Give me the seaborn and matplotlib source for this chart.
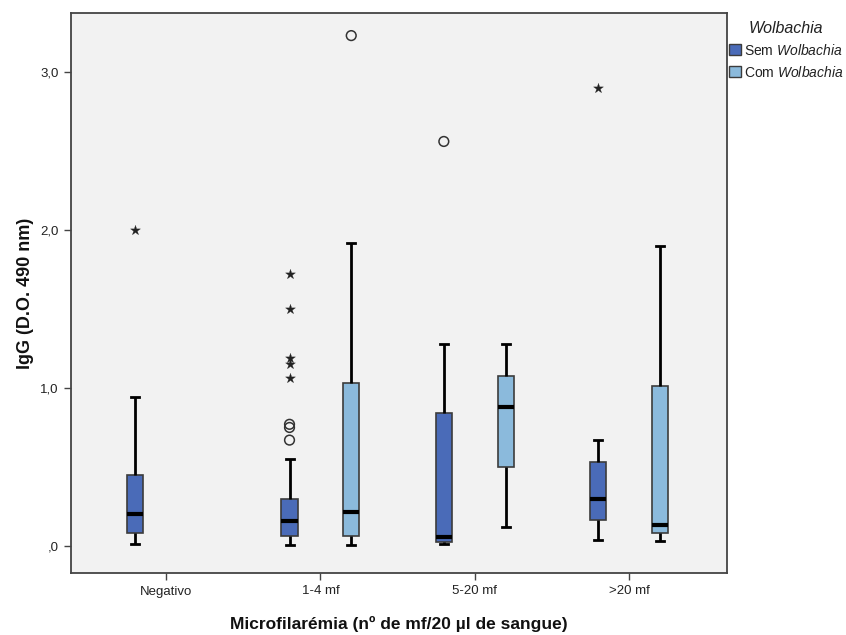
import matplotlib
matplotlib.use("Agg")
import matplotlib.pyplot as plt
import pandas as pd
import seaborn as sns
from matplotlib.patches import Patch

plt.rcParams["font.family"] = ["Liberation Sans", "DejaVu Sans"]
plt.rcParams["mathtext.fontset"] = "custom"
plt.rcParams["mathtext.rm"] = "Liberation Sans"
plt.rcParams["mathtext.it"] = "Liberation Sans:italic"

# Categories
groups = ["Negativo", "1-4 mf", "5-20 mf", ">20 mf"]
status = ["Sem", "Com"]
status_labels = ["Sem $\\it{Wolbachia}$", "Com $\\it{Wolbachia}$"]
colors = ["#4a6bb8", "#8bbadc"]

# Box summaries (IgG, D.O. 490 nm) for each group / status pair
box_group = ["Negativo", "1-4 mf", "1-4 mf", "5-20 mf", "5-20 mf", ">20 mf", ">20 mf"]
box_status = ["Sem", "Sem", "Com", "Sem", "Com", "Sem", "Com"]
whisker_low = [0.010, 0.008, 0.008, 0.010, 0.118, 0.038, 0.032]
quartile_1 = [0.080, 0.066, 0.063, 0.027, 0.500, 0.165, 0.080]
median = [0.200, 0.155, 0.215, 0.059, 0.880, 0.300, 0.130]
quartile_3 = [0.450, 0.300, 1.030, 0.840, 1.078, 0.530, 1.015]
whisker_high = [0.940, 0.550, 1.915, 1.280, 1.280, 0.670, 1.900]

# Outliers (circles) and extreme values (stars)
outlier_group = ["1-4 mf", "1-4 mf", "1-4 mf", "1-4 mf", "5-20 mf"]
outlier_status = ["Sem", "Sem", "Sem", "Com", "Sem"]
outlier_value = [0.77, 0.75, 0.67, 3.23, 2.56]
extreme_group = ["Negativo", "1-4 mf", "1-4 mf", "1-4 mf", "1-4 mf", "1-4 mf", ">20 mf"]
extreme_status = ["Sem", "Sem", "Sem", "Sem", "Sem", "Sem", "Sem"]
extreme_value = [2.00, 1.72, 1.50, 1.19, 1.15, 1.06, 2.90]

# Axis ticks
y_ticks = [0, 1, 2, 3]
y_tick_labels = [",0", "1,0", "2,0", "3,0"]

# Long table: each box is described by a sample whose min/quartiles/median/max
# equal the summary values (numpy linear percentiles on 7 points).
rows = []
for g, s, lo, q1, md, q3, hi in zip(box_group, box_status, whisker_low,
                                     quartile_1, median, quartile_3, whisker_high):
    for v in (lo, q1, q1, md, q3, q3, hi):
        rows.append({"grupo": g, "Wolbachia": s, "IgG": v})
box_df = pd.DataFrame(rows)
out_df = pd.DataFrame({"grupo": outlier_group, "Wolbachia": outlier_status, "IgG": outlier_value})
ext_df = pd.DataFrame({"grupo": extreme_group, "Wolbachia": extreme_status, "IgG": extreme_value})

fig = plt.figure(figsize=(8.46, 6.35), dpi=100)
ax = fig.add_axes([71 / 846, 1 - 573 / 635, (727 - 71) / 846, (573 - 13) / 635])
ax.set_facecolor("#f2f2f2")

palette = dict(zip(status, colors))
sns.boxplot(
    data=box_df, x="grupo", y="IgG", hue="Wolbachia",
    order=groups, hue_order=status, palette=palette, saturation=1,
    width=0.8, gap=0.74, whis=(0, 100), showfliers=False,
    linecolor="#3c3c3c", linewidth=1.2,
    medianprops=dict(color="black", linewidth=3),
    whiskerprops=dict(color="black", linewidth=2),
    capprops=dict(color="black", linewidth=2),
    legend=False, ax=ax,
)

n0 = len(ax.collections)
sns.stripplot(
    data=out_df, x="grupo", y="IgG", hue="Wolbachia",
    order=groups, hue_order=status, palette=palette,
    dodge=True, jitter=False, marker="o", size=7, legend=False, ax=ax,
)
for coll in ax.collections[n0:]:
    coll.set_facecolor("none")
    coll.set_edgecolor("#333333")
    coll.set_linewidth(1.1)

n1 = len(ax.collections)
sns.stripplot(
    data=ext_df, x="grupo", y="IgG", hue="Wolbachia",
    order=groups, hue_order=status, palette=palette,
    dodge=True, jitter=False, marker="*", size=7.5, legend=False, ax=ax,
)
for coll in ax.collections[n1:]:
    coll.set_facecolor("#222222")
    coll.set_edgecolor("#222222")
    coll.set_linewidth(0.2)

ax.set_xlim(-0.616, 3.635)
ax.set_ylim(-0.171, 3.373)
ax.set_yticks(y_ticks)
ax.set_yticklabels(y_tick_labels)

for sp in ax.spines.values():
    sp.set_color("#444444")
    sp.set_linewidth(1.3)
ax.tick_params(axis="both", direction="out", length=5, width=1, color="#444444",
               labelsize=9.5, labelcolor="#222222", pad=4)

ax.set_xlabel("Microfilarémia (nº de mf/20 µl de sangue)", fontsize=12.5,
              fontweight="bold", color="#111111", labelpad=13)
ax.set_ylabel("IgG (D.O. 490 nm)", fontsize=13, fontweight="bold",
              color="#111111", labelpad=4)

handles = [Patch(facecolor=c, edgecolor="#3c3c3c", linewidth=1) for c in colors]
leg = fig.legend(
    handles, status_labels, title="Wolbachia",
    loc="upper left", bbox_to_anchor=(719 / 846, 1 - 11 / 635),
    frameon=False, fontsize=10, handlelength=0.85, handleheight=0.85,
    handletextpad=0.25, labelspacing=0.5, borderpad=0.2,
    title_fontproperties={"style": "italic", "size": 11.5},
)
for t in leg.get_texts():
    t.set_color("#222222")
leg.get_title().set_color("#222222")

fig.savefig("out.png", dpi=100, facecolor="white")
